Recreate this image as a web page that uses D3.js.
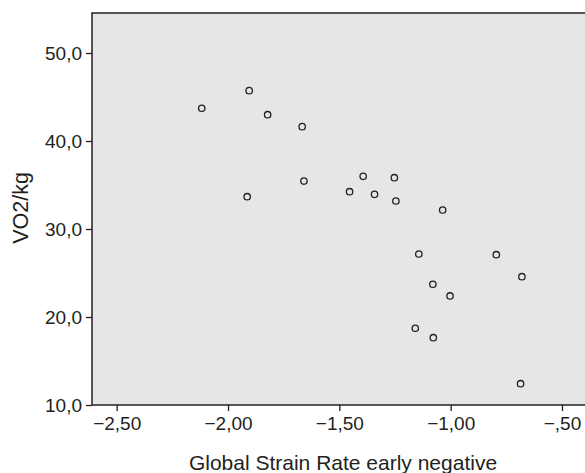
<!DOCTYPE html>
<html>
<head>
<meta charset="utf-8">
<script src="https://cdn.jsdelivr.net/npm/d3@7"></script>
<style>
  body { margin: 0; background: #fff; }
  text { font-family: "Liberation Sans", Arial, sans-serif; fill: #231f20; }
</style>
</head>
<body>
<div id="chart"></div>
<script>
// data
let strainRate = [-2.118, -1.905, -1.822, -1.667, -1.659, -1.914, -1.393, -1.253, -1.454, -1.342,
                  -1.246, -1.036, -1.143, -0.795, -0.680, -1.080, -1.003, -1.159, -1.078, -0.686];
let vo2kg = [43.72, 45.72, 42.99, 41.63, 35.45, 33.67, 35.99, 35.83, 34.24, 33.94,
             33.18, 32.16, 27.16, 27.08, 24.58, 23.72, 22.39, 18.72, 17.65, 12.42];

let xTicks = [-2.5, -2.0, -1.5, -1.0, -0.5];
let xTickLabels = ["\u22122,50", "\u22122,00", "\u22121,50", "\u22121,00", "\u2212,50"];
let yTicks = [10, 20, 30, 40, 50];
let yTickLabels = ["10,0", "20,0", "30,0", "40,0", "50,0"];

let svgWidth = 585;
let svgHeight = 473;

let plot = { left: 92, top: 13, right: 592, bottom: 405 };

let svg = d3.select("#chart")
    .append("svg")
    .attr("width", svgWidth)
    .attr("height", svgHeight);

// scales: -2.5 at 116.7px, -0.5 at 562px ; 10 at 405px, 50 at 53px
let xScale = d3.scaleLinear()
    .domain([-2.5, -0.5])
    .range([116.7, 562]);

let yScale = d3.scaleLinear()
    .domain([10, 50])
    .range([405, 53]);

// plot background
svg.append("rect")
    .attr("x", plot.left)
    .attr("y", plot.top)
    .attr("width", plot.right - plot.left)
    .attr("height", plot.bottom - plot.top)
    .attr("fill", "#e5e6e8")
    .attr("stroke", "#231f20")
    .attr("stroke-width", 1.5);

// x axis
let xAxis = d3.axisBottom(xScale)
    .tickValues(xTicks)
    .tickFormat((d, i) => xTickLabels[i])
    .tickSize(6)
    .tickPadding(6);

let gx = svg.append("g")
    .attr("transform", `translate(0, ${plot.bottom})`)
    .call(xAxis);
gx.select(".domain").remove();
gx.selectAll("line").attr("stroke", "#231f20").attr("stroke-width", 1.3);
gx.selectAll("text").attr("font-size", "19px").attr("fill", "#231f20");

// y axis
let yAxis = d3.axisLeft(yScale)
    .tickValues(yTicks)
    .tickFormat((d, i) => yTickLabels[i])
    .tickSize(6)
    .tickPadding(4);

let gy = svg.append("g")
    .attr("transform", `translate(${plot.left}, 0)`)
    .call(yAxis);
gy.select(".domain").remove();
gy.selectAll("line").attr("stroke", "#231f20").attr("stroke-width", 1.3);
gy.selectAll("text").attr("font-size", "19px").attr("fill", "#231f20");

// points
let points = strainRate.map((x, i) => ({ x: x, y: vo2kg[i] }));

svg.selectAll("circle.pt")
    .data(points)
    .enter()
    .append("circle")
    .attr("class", "pt")
    .attr("cx", d => xScale(d.x))
    .attr("cy", d => yScale(d.y))
    .attr("r", 3.2)
    .attr("fill", "none")
    .attr("stroke", "#231f20")
    .attr("stroke-width", 1.3);

// axis titles
svg.append("text")
    .attr("x", 343)
    .attr("y", 470)
    .attr("text-anchor", "middle")
    .attr("font-size", "21px")
    .text("Global Strain Rate early negative");

svg.append("text")
    .attr("transform", "translate(28, 208) rotate(-90)")
    .attr("text-anchor", "middle")
    .attr("font-size", "21.5px")
    .text("VO2/kg");
</script>
</body>
</html>
